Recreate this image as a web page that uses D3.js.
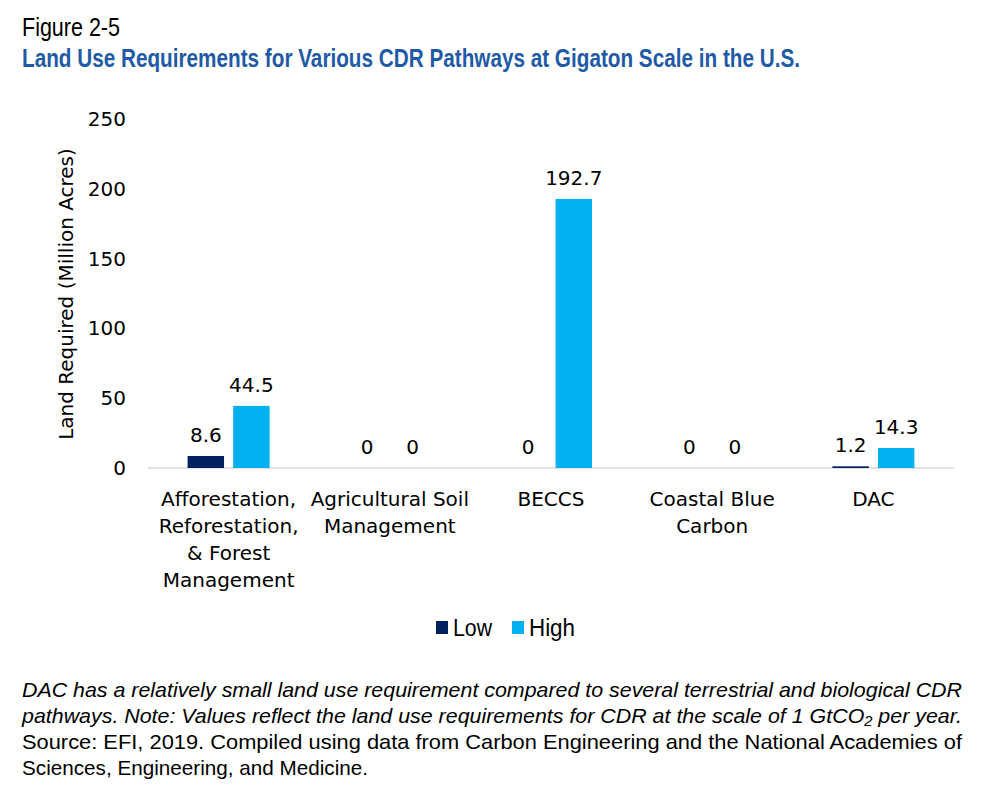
<!DOCTYPE html>
<html>
<head>
<meta charset="utf-8">
<script src="https://cdn.jsdelivr.net/npm/d3@7"></script>
<style>
  body { margin: 0; background: #fff; }
  text { font-family: "DejaVu Sans", sans-serif; fill: #000; }
  .narrow { font-family: "Liberation Sans", Arial, sans-serif; }
</style>
</head>
<body>
<svg class="chart"></svg>
<script>
var categories = [
  ["Afforestation,", "Reforestation,", "& Forest", "Management"],
  ["Agricultural Soil", "Management"],
  ["BECCS"],
  ["Coastal Blue", "Carbon"],
  ["DAC"]
];
var seriesNames = ["Low", "High"];
var lowValues = [8.6, 0, 0, 0, 1.2];
var highValues = [44.5, 0, 192.7, 0, 14.3];
var yTicks = [0, 50, 100, 150, 200, 250];
var colors = ["#002060", "#00B0F0"];

var footLines = [
  "DAC has a relatively small land use requirement compared to several terrestrial and biological CDR",
  "pathways.  Note: Values reflect the land use requirements for CDR at the scale of 1 GtCO\u2082 per year.",
  "Source: EFI, 2019.  Compiled using data from Carbon Engineering and the National Academies of",
  "Sciences, Engineering, and Medicine."
];
var footWidths = [940, 940, 940, 346];

var W = 982, H = 792;
var margin = { top: 119, right: 28, bottom: 324, left: 148 },
width = W - margin.left - margin.right,
height = H - margin.top - margin.bottom;

var svg = d3.select(".chart")
  .attr("width", W)
  .attr("height", H);

// titles (condensed look via textLength)
svg.append("text")
  .attr("class", "narrow")
  .attr("x", 22).attr("y", 36)
  .attr("textLength", 98).attr("lengthAdjust", "spacingAndGlyphs")
  .style("font-size", "25px")
  .text("Figure 2-5");
svg.append("text")
  .attr("class", "narrow")
  .attr("x", 22).attr("y", 67)
  .attr("textLength", 778).attr("lengthAdjust", "spacingAndGlyphs")
  .style("font-size", "25px")
  .style("font-weight", "bold")
  .style("fill", "#1F5AA6")
  .text("Land Use Requirements for Various CDR Pathways at Gigaton Scale in the U.S.");

var g = svg.append("g")
  .attr("transform", "translate(" + margin.left + "," + margin.top + ")");

var idx = categories.map(function(d, i) { return i; });
var x0 = d3.scaleBand()
  .domain(idx)
  .range([0, width]);
var groupW = 82;
var x1 = d3.scaleBand()
  .domain(seriesNames)
  .range([0, groupW])
  .paddingInner(0.2);
var y = d3.scaleLinear()
  .domain([0, 250])
  .range([height, 0]);

// y axis labels (no line)
var yAxis = d3.axisLeft(y)
  .tickValues(yTicks)
  .tickSize(0)
  .tickPadding(22);
var ya = g.append("g").call(yAxis);
ya.select(".domain").remove();
ya.selectAll("text")
  .style("font-size", "20px")
  .style("font-family", "DejaVu Sans, sans-serif")
  .attr("fill", "#000");

// baseline
g.append("line")
  .attr("x1", 0).attr("x2", width)
  .attr("y1", y(0)).attr("y2", y(0))
  .attr("stroke", "#D9D9D9")
  .attr("stroke-width", 1.5);

var rows = idx.map(function(i) {
  return [
    { key: "Low", value: lowValues[i] },
    { key: "High", value: highValues[i] }
  ];
});

var groups = g.selectAll(".grp")
  .data(rows)
  .enter().append("g")
  .attr("class", "grp")
  .attr("transform", function(d, i) {
    return "translate(" + (x0(i) + (x0.bandwidth() - groupW) / 2) + ",0)";
  });

groups.selectAll("rect")
  .data(function(d) { return d; })
  .enter().append("rect")
  .attr("x", function(d) { return x1(d.key); })
  .attr("width", x1.bandwidth())
  .attr("y", function(d) { return y(d.value); })
  .attr("height", function(d) { return y(0) - y(d.value); })
  .attr("fill", function(d) { return colors[seriesNames.indexOf(d.key)]; });

groups.selectAll(".val")
  .data(function(d) { return d; })
  .enter().append("text")
  .attr("class", "val")
  .attr("x", function(d) { return x1(d.key) + x1.bandwidth() / 2; })
  .attr("y", function(d) { return y(d.value) - 14; })
  .attr("text-anchor", "middle")
  .style("font-size", "20px")
  .text(function(d) { return d.value; });

// category labels
var cat = g.selectAll(".cat")
  .data(categories)
  .enter().append("text")
  .attr("class", "cat")
  .attr("text-anchor", "middle")
  .style("font-size", "20px");
cat.selectAll("tspan")
  .data(function(d, i) { return d.map(function(s) { return { s: s, i: i }; }); })
  .enter().append("tspan")
  .attr("x", function(d) { return x0(d.i) + x0.bandwidth() / 2; })
  .attr("y", function(d, j) { return height + 38 + j * 27; })
  .text(function(d) { return d.s; });

// y axis title
svg.append("text")
  .attr("transform", "translate(73," + 294 + ") rotate(-90)")
  .attr("text-anchor", "middle")
  .style("font-size", "20px")
  .text("Land Required (Million Acres)");

// legend
var legend = svg.append("g").attr("transform", "translate(436,621)");
var lx = [0, 76];
var lw = [39, 46];
seriesNames.forEach(function(s, i) {
  legend.append("rect")
    .attr("x", lx[i]).attr("y", 0)
    .attr("width", 12).attr("height", 13)
    .attr("fill", colors[i]);
  legend.append("text")
    .attr("class", "narrow")
    .attr("x", lx[i] + 17).attr("y", 15)
    .attr("textLength", lw[i]).attr("lengthAdjust", "spacingAndGlyphs")
    .style("font-size", "23px")
    .text(s);
});

// footnote
var foot = svg.append("g");
footLines.forEach(function(t, i) {
  foot.append("text")
    .attr("class", "narrow")
    .attr("x", 22)
    .attr("y", 697 + i * 26)
    .attr("textLength", footWidths[i])
    .attr("lengthAdjust", "spacingAndGlyphs")
    .style("font-size", "21px")
    .style("font-style", i < 2 ? "italic" : "normal")
    .text(t);
});
</script>
</body>
</html>
